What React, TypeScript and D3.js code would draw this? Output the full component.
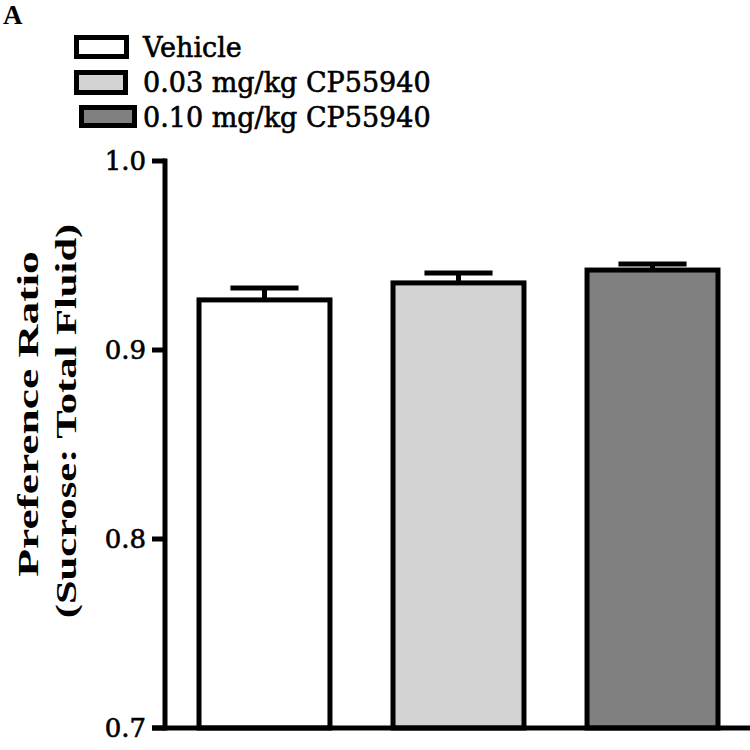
import React from 'react';
import * as d3 from 'd3';

const groups = ['Vehicle', '0.03 mg/kg CP55940', '0.10 mg/kg CP55940'];
const means = [0.9265, 0.9355, 0.9423];
const sems = [0.0063, 0.0052, 0.0032];
const fills = ['#ffffff', '#d3d3d3', '#808080'];
const yTicks = [0.7, 0.8, 0.9, 1.0];

const W = 750;
const H = 750;
const axisX = 165;
const baseY = 728;

// legend box outer edges
const legendBoxes = [
  { x: 74, y: 35, w: 55, h: 24, base: 57 },
  { x: 74, y: 70, w: 54, h: 25, base: 92 },
  { x: 79, y: 105, w: 58, h: 23, base: 127 },
];

export default function App() {
  const y = d3.scaleLinear().domain([0.7, 1.0]).range([baseY, 161]);
  const x = d3.scaleBand<string>()
    .domain(groups)
    .range([axisX + 2, W])
    .paddingInner(0.325)
    .paddingOuter(0.165);
  const bw = x.bandwidth();
  const capW = bw * 0.52;
  const times = '"Liberation Serif", "Times New Roman", serif';
  const dejavu = '"DejaVu Serif", serif';

  return (
    <svg width={W} height={H} style={{ position: 'absolute', left: 0, top: 0 }}>
      <rect width={W} height={H} fill="#fff" />
      <text x={3} y={24} fontFamily={times} fontWeight="bold" fontSize={27}>A</text>

      {/* legend */}
      {groups.map((g, i) => {
        const b = legendBoxes[i];
        return (
          <g key={g}>
            <rect x={b.x + 2.5} y={b.y + 2.5} width={b.w - 5} height={b.h - 5} fill={fills[i]} stroke="#000" strokeWidth={5} />
            <text x={143} y={b.base} fontFamily={dejavu} fontSize={27} stroke="#000" strokeWidth={0.6}>{g}</text>
          </g>
        );
      })}

      {/* bars */}
      {groups.map((g, i) => {
        const x0 = x(g)!;
        const cx = x0 + bw / 2;
        const top = y(means[i]);
        const errY = y(means[i] + sems[i]);
        return (
          <g key={g}>
            <line x1={cx} x2={cx} y1={top} y2={errY} stroke="#000" strokeWidth={5} />
            <line x1={cx - capW / 2} x2={cx + capW / 2} y1={errY} y2={errY} stroke="#000" strokeWidth={5} />
            <rect x={x0} y={top} width={bw} height={baseY - top} fill={fills[i]} stroke="#000" strokeWidth={5} />
          </g>
        );
      })}

      {/* axes */}
      <line x1={axisX} x2={axisX} y1={y(1.0) - 2.5} y2={baseY + 2.5} stroke="#000" strokeWidth={5} />
      <line x1={152} x2={W} y1={baseY} y2={baseY} stroke="#000" strokeWidth={5} />
      {yTicks.map((t) => (
        <g key={t}>
          <line x1={152} x2={axisX} y1={y(t)} y2={y(t)} stroke="#000" strokeWidth={5} />
          <text x={146} y={y(t)} dy="0.36em" textAnchor="end" fontFamily={dejavu} fontSize={26}
            stroke="#000" strokeWidth={0.6}>
            {d3.format('.1f')(t)}
          </text>
        </g>
      ))}

      {/* axis title, stretched along its length as in the reference */}
      <g transform={`translate(38, 414) rotate(-90) scale(1.57, 1)`}>
        <text textAnchor="middle" fontFamily={times} fontWeight="bold" fontSize={29}>Preference Ratio</text>
      </g>
      <g transform={`translate(76, 421) rotate(-90) scale(1.47, 1)`}>
        <text textAnchor="middle" fontFamily={times} fontWeight="bold" fontSize={29}>(Sucrose: Total Fluid)</text>
      </g>
    </svg>
  );
}
